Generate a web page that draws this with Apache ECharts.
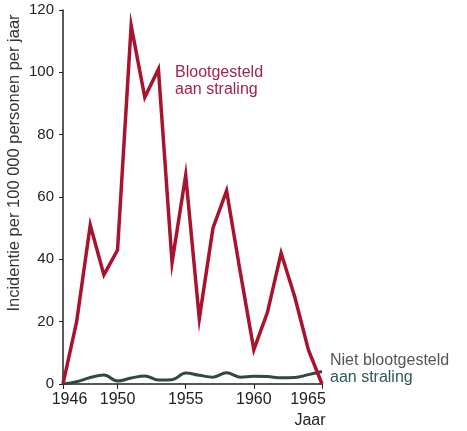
<!DOCTYPE html>
<html>
<head>
<meta charset="utf-8">
<script src="https://cdn.jsdelivr.net/npm/echarts@6/dist/echarts.min.js"></script>
<style>
html,body{margin:0;padding:0;background:#fff;}
#c{width:467px;height:431px;}
</style>
</head>
<body>
<div id="c"></div>
<script>
var years = ['1946','1947','1948','1949','1950','1951','1952','1953','1954','1955','1956','1957','1958','1959','1960','1961','1962','1963','1964','1965'];
var shownYears = ['1946','1950','1955','1960','1965'];
var blootgesteld = [0,20,51,35,43,115,92,101,39,67,21,50,62,36,11,23,42,28,11,0];
var nietBlootgesteld = [0,0.7,2.1,2.9,1.0,1.9,2.6,1.3,1.4,3.5,2.8,2.2,3.6,2.2,2.5,2.4,2.0,2.1,3.0,4.0];
var yTicks = [0,20,40,60,80,100,120];

var chart = echarts.init(document.getElementById('c'), null, {renderer:'canvas'});
var font = 'Arial, "Liberation Sans", sans-serif';
chart.setOption({
  animation:false,
  backgroundColor:'#fff',
  grid:{left:63,right:145,top:10,bottom:47},
  xAxis:{
    type:'category',
    data:years,
    boundaryGap:false,
    axisLine:{lineStyle:{color:'#222',width:1.5}},
    axisTick:{length:5,lineStyle:{color:'#222'},
      interval:function(i,v){return shownYears.indexOf(v)>=0;}},
    axisLabel:{
      interval:function(i,v){return shownYears.indexOf(v)>=0;},
      color:'#222',fontSize:16,fontFamily:font,margin:8,
      formatter:function(v){
        if(v==='1946') return '{a|'+v+'}';
        if(v==='1965') return '{b|'+v+'}';
        return v;
      },
      rich:{
        a:{fontSize:16,fontFamily:font,color:'#222',padding:[0,0,0,13]},
        b:{fontSize:16,fontFamily:font,color:'#222',padding:[0,28,0,0]}
      }
    },
    splitLine:{show:false}
  },
  yAxis:{
    type:'value',
    min:yTicks[0],max:yTicks[yTicks.length-1],interval:20,
    axisLine:{show:true,lineStyle:{color:'#222',width:1.5}},
    axisTick:{show:true,length:4,lineStyle:{color:'#222'}},
    axisLabel:{color:'#222',fontSize:15,fontFamily:font,margin:9},
    splitLine:{show:false}
  },
  series:[
    {
      name:'Niet blootgesteld aan straling',
      type:'line',
      data:nietBlootgesteld,
      smooth:0.4,
      symbol:'none',
      lineStyle:{color:'#2f4a40',width:3}
    },
    {
      name:'Blootgesteld aan straling',
      type:'line',
      data:blootgesteld,
      symbol:'none',
      lineStyle:{color:'#a8142e',width:3.5,join:'miter'}
    }
  ],
  graphic:[
    {type:'text',x:14,y:163,rotation:Math.PI/2,
      style:{text:'Incidentie per 100 000 personen per jaar',fill:'#333',font:'16.5px '+font,textAlign:'center',textVerticalAlign:'middle'}},
    {type:'text',x:175,y:64,
      style:{text:'Blootgesteld\naan straling',fill:'#9e2350',font:'16px '+font,lineHeight:17,textAlign:'left',textVerticalAlign:'top'}},
    {type:'text',x:330,y:353,
      style:{text:'Niet blootgesteld',fill:'#555',font:'16px '+font,textAlign:'left',textVerticalAlign:'top'}},
    {type:'text',x:330,y:370,
      style:{text:'aan straling',fill:'#2f5a55',font:'16px '+font,textAlign:'left',textVerticalAlign:'top'}},
    {type:'text',x:310,y:421,
      style:{text:'Jaar',fill:'#222',font:'16px '+font,textAlign:'center',textVerticalAlign:'middle'}}
  ]
});
</script>
</body>
</html>
